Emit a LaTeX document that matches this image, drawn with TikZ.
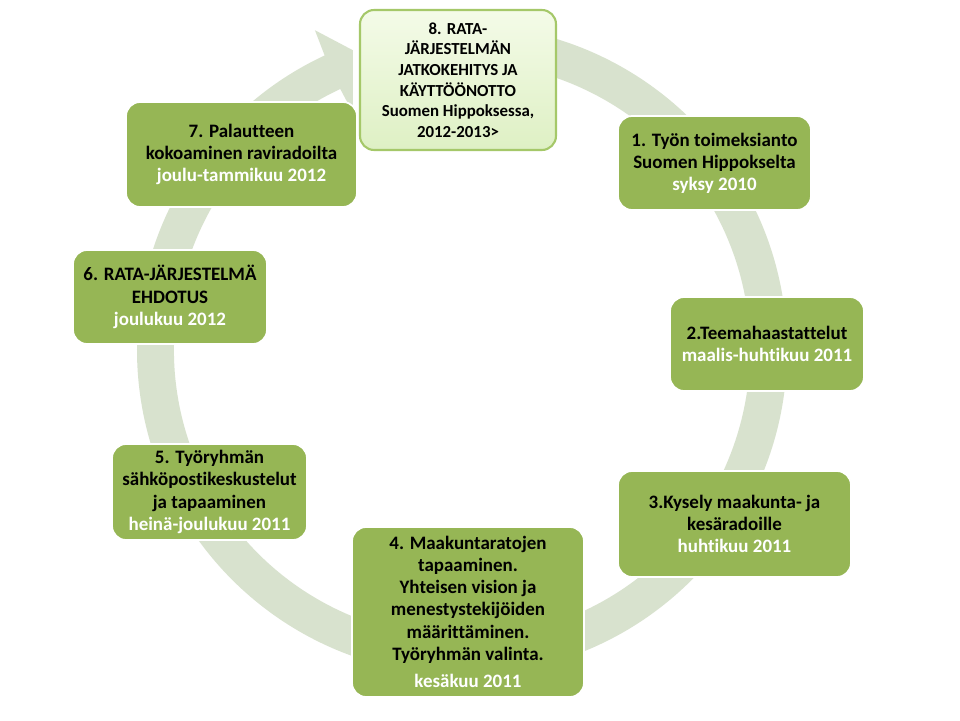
\documentclass[tikz,border=0pt]{standalone}
\usepackage{fontspec}
\setmainfont{Carlito}[Ligatures=CommonOff]
\usepackage{xcolor}
\usepackage{tikz}
\definecolor{ringgreen}{RGB}{216,226,206}
\definecolor{boxgreen}{RGB}{150,182,85}
\definecolor{glowgreen}{RGB}{165,200,105}
\definecolor{palelight}{RGB}{244,251,232}
\definecolor{paledark}{RGB}{222,240,196}
\newcommand{\stagedate}[1]{\textcolor{white}{#1}}

\begin{document}
\begin{tikzpicture}[x=0.02cm, y=-0.02cm,
  box/.style={rounded corners=8pt, fill=boxgreen, draw=white, line width=1pt,
    align=center, inner sep=2pt, font=\fontsize{10.8}{12.6}\selectfont\bfseries},
  nowbox/.style={box, draw=glowgreen, line width=1.2pt,
    top color=palelight, bottom color=paledark,
    font=\fontsize{9.6}{11.7}\selectfont\bfseries}]
  \useasboundingbox[fill=white] (0,0) rectangle (960,720);
  % the cycle ring
  \coordinate (c) at (462,350);
  \begin{scope}[shift={(c)}]
    \fill[ringgreen] (-95:325) arc[start angle=-95, end angle=245, radius=325]
      -- (245.3:352) -- (250:319) -- (245.3:261)
      -- (245:288) arc[start angle=245, end angle=-95, radius=288] -- cycle;
  \end{scope}
  % the stages
  \node[nowbox, minimum width=3.92cm, minimum height=2.80cm] (s8) at (458,80)
    {8. RATA-\\JÄRJESTELMÄN\\JATKOKEHITYS JA\\KÄYTTÖÖNOTTO\\Suomen Hippoksessa,\\2012-2013>};
  \node[box, minimum width=3.86cm, minimum height=1.88cm] (s1) at (714.5,163)
    {1. Työn toimeksianto\\Suomen Hippokselta\\\stagedate{syksy 2010}};
  \node[box, minimum width=3.88cm, minimum height=1.88cm] (s2) at (767,344)
    {2.Teemahaastattelut\\\stagedate{maalis-huhtikuu 2011}};
  \node[box, minimum width=4.66cm, minimum height=2.12cm] (s3) at (734.5,524)
    {3.Kysely maakunta- ja\\kesäradoille\\\stagedate{huhtikuu 2011}};
  \node[box, minimum width=4.64cm, minimum height=3.40cm] (s4) at (468,612)
    {4. Maakuntaratojen\\tapaaminen.\\Yhteisen vision ja\\menestystekijöiden\\määrittäminen.\\Työryhmän valinta.\\[3pt]\stagedate{kesäkuu 2011}};
  \node[box, minimum width=3.90cm, minimum height=1.92cm] (s5) at (209.5,492)
    {5. Työryhmän\\sähköpostikeskustelut\\ja tapaaminen\\\stagedate{heinä-joulukuu 2011}};
  \node[box, minimum width=3.88cm, minimum height=1.88cm] (s6) at (170,297)
    {6. RATA-JÄRJESTELMÄ\\EHDOTUS\\\stagedate{joulukuu 2012}};
  \node[box, minimum width=4.62cm, minimum height=2.10cm] (s7) at (241.5,154.5)
    {7. Palautteen\\kokoaminen raviradoilta\\\stagedate{joulu-tammikuu 2012}};
\end{tikzpicture}
\end{document}
